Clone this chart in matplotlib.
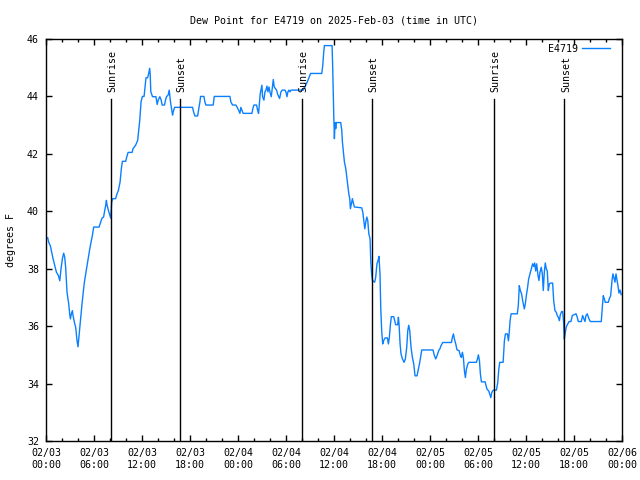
import numpy as np
import pandas as pd
import matplotlib
matplotlib.use("Agg")
import matplotlib.pyplot as plt
import matplotlib.dates as mdates
from matplotlib.ticker import MultipleLocator

# Hours since 2025-02-03 00:00 UTC and dew point (F)
hours = [0.21, 0.33, 0.55, 0.88, 1.17, 1.3, 1.55, 1.72, 1.88, 2.05, 2.21, 2.34, 2.46, 2.63, 2.84, 2.96,
         3.05, 3.17, 3.3, 3.38, 3.55, 3.71, 3.88, 4.0, 4.13, 4.26, 4.38, 4.5, 4.63, 4.8, 4.96, 5.13,
         5.3, 5.46, 5.63, 5.8, 5.96, 6.63, 6.8, 7.0, 7.2, 7.34, 7.46, 7.55, 7.63, 7.8, 7.96, 8.09,
         8.21, 8.34, 8.71, 8.84, 9.05, 9.26, 9.42, 9.55, 9.96, 10.09, 10.26, 10.76, 10.88, 11.2, 11.46, 11.59,
         11.72, 11.88, 12.05, 12.26, 12.38, 12.5, 12.7, 12.84, 12.96, 13.02, 13.1, 13.32, 13.74, 13.9, 14.02, 14.23,
         14.4, 14.52, 14.81, 14.94, 15.06, 15.27, 15.4, 15.56, 15.73, 15.82, 15.9, 16.07, 18.32, 18.45, 18.62, 18.95,
         19.07, 19.24, 19.32, 19.74, 19.86, 19.99, 20.9, 21.03, 22.99, 23.11, 23.32, 23.74, 23.9, 24.07, 24.24, 24.36,
         24.49, 24.65, 25.74, 25.86, 25.99, 26.32, 26.45, 26.57, 26.66, 26.78, 26.91, 26.99, 27.07, 27.24, 27.37, 27.49,
         27.62, 27.74, 27.87, 27.99, 28.16, 28.28, 28.41, 28.53, 28.66, 28.82, 28.99, 29.2, 29.37, 29.53, 29.87, 29.99,
         30.12, 30.24, 30.37, 30.49, 30.62, 30.83, 32.17, 32.37, 32.66, 32.91, 33.07, 34.47, 34.6, 34.72, 34.8, 35.76,
         35.84, 35.97, 36.05, 36.13, 36.22, 36.3, 36.84, 36.97, 37.05, 37.18, 37.3, 37.47, 37.6, 37.72, 37.85, 37.97,
         38.05, 38.18, 38.3, 38.43, 38.55, 39.47, 39.6, 39.72, 39.85, 39.97, 40.1, 40.22, 40.35, 40.51, 40.6, 40.72,
         40.81, 41.08, 41.21, 41.37, 41.5, 41.62, 41.75, 41.84, 41.96, 42.09, 42.21, 42.38, 42.67, 42.8, 42.92, 43.05,
         43.17, 43.46, 43.59, 43.71, 43.96, 44.05, 44.13, 44.26, 44.38, 44.55, 44.76, 44.92, 45.09, 45.22, 45.34, 45.47,
         45.63, 45.8, 45.97, 46.13, 46.38, 46.55, 46.72, 46.88, 46.97, 48.38, 48.55, 48.72, 48.88, 49.09, 49.22, 49.38,
         49.59, 50.68, 50.8, 50.93, 51.05, 51.22, 51.38, 51.63, 51.8, 51.92, 52.05, 52.17, 52.3, 52.42, 52.55, 52.72,
         52.88, 53.8, 53.93, 54.05, 54.18, 54.3, 54.43, 54.89, 55.01, 55.14, 55.35, 55.47, 55.6, 55.72, 55.89, 56.3,
         56.47, 56.6, 56.72, 57.14, 57.3, 57.43, 57.68, 57.8, 57.89, 58.01, 58.14, 58.91, 59.04, 59.16, 59.29, 59.45,
         59.58, 59.79, 59.91, 60.04, 60.2, 60.33, 60.5, 60.66, 60.83, 60.96, 61.08, 61.21, 61.33, 61.5, 61.62, 61.75,
         61.91, 62.04, 62.16, 62.29, 62.41, 62.54, 62.66, 62.79, 62.91, 63.08, 63.33, 63.46, 63.62, 63.79, 63.91, 64.04,
         64.17, 64.29, 64.46, 64.58, 64.71, 64.79, 64.91, 65.04, 65.2, 65.37, 65.62, 65.79, 66.25, 66.41, 66.54, 66.91,
         67.08, 67.25, 67.37, 67.5, 67.66, 67.83, 68.04, 69.41, 69.54, 69.66, 69.79, 69.91, 70.29, 70.41, 70.58, 70.75,
         70.87, 71.0, 71.12, 71.25, 71.37, 71.5, 71.62, 71.75, 71.9]
dewpoint = [39.08, 38.93, 38.79, 38.35, 38.03, 37.88, 37.76, 37.58, 38.0, 38.35, 38.54, 38.4, 38.03, 37.18, 36.77, 36.43,
            36.25, 36.43, 36.54, 36.37, 36.13, 35.96, 35.49, 35.28, 35.67, 36.08, 36.43, 36.77, 37.12, 37.53, 37.82, 38.11,
            38.4, 38.67, 38.93, 39.16, 39.45, 39.45, 39.59, 39.76, 39.8, 40.03, 40.2, 40.38, 40.22, 40.03, 39.88, 39.76,
            40.32, 40.44, 40.44, 40.58, 40.73, 41.02, 41.49, 41.74, 41.74, 41.89, 42.05, 42.05, 42.18, 42.3, 42.47, 42.82,
            43.17, 43.81, 44.0, 44.0, 44.34, 44.65, 44.65, 44.8, 44.98, 44.8, 44.16, 43.99, 43.99, 43.72, 43.87, 43.99,
            43.87, 43.7, 43.7, 43.87, 43.99, 44.05, 44.22, 43.81, 43.52, 43.35, 43.46, 43.62, 43.62, 43.46, 43.32, 43.32,
            43.52, 43.81, 44.0, 44.0, 43.81, 43.7, 43.7, 44.0, 44.0, 43.81, 43.7, 43.7, 43.62, 43.52, 43.41, 43.62,
            43.52, 43.41, 43.41, 43.58, 43.7, 43.7, 43.52, 43.41, 43.7, 44.1, 44.28, 44.39, 43.99, 43.87, 44.16, 44.22,
            44.36, 44.16, 44.33, 44.16, 43.99, 44.28, 44.59, 44.33, 44.28, 44.22, 44.05, 43.93, 44.16, 44.22, 44.22, 44.16,
            43.99, 44.16, 44.22, 44.16, 44.22, 44.22, 44.22, 44.33, 44.51, 44.68, 44.8, 44.8, 45.09, 45.56, 45.77, 45.77,
            44.98, 43.35, 42.53, 43.09, 42.88, 43.09, 43.09, 42.82, 42.42, 42.07, 41.72, 41.49, 41.19, 40.9, 40.61, 40.44,
            40.09, 40.27, 40.44, 40.27, 40.15, 40.12, 39.97, 39.68, 39.39, 39.62, 39.8, 39.68, 39.22, 39.04, 38.23, 37.76,
            37.59, 37.53, 37.7, 38.17, 38.28, 38.43, 37.82, 36.66, 35.84, 35.38, 35.5, 35.59, 35.59, 35.38, 35.61, 36.05,
            36.33, 36.33, 36.19, 36.05, 36.05, 36.31, 36.08, 35.38, 35.03, 34.86, 34.74, 34.86, 35.26, 35.84, 36.03, 35.84,
            35.26, 34.91, 34.68, 34.27, 34.27, 34.5, 34.74, 35.03, 35.17, 35.17, 34.97, 34.86, 34.97, 35.15, 35.2, 35.32,
            35.43, 35.43, 35.61, 35.73, 35.55, 35.38, 35.17, 35.15, 34.97, 34.91, 35.09, 34.91, 34.45, 34.21, 34.5, 34.68,
            34.74, 34.74, 34.86, 35.0, 34.8, 34.33, 34.06, 34.06, 33.92, 33.8, 33.74, 33.63, 33.51, 33.69, 33.77, 33.77,
            34.04, 34.5, 34.74, 34.74, 35.49, 35.73, 35.73, 35.49, 35.73, 36.19, 36.43, 36.43, 36.72, 37.41, 37.24, 37.12,
            36.89, 36.6, 36.77, 37.06, 37.35, 37.64, 37.82, 37.99, 38.17, 38.08, 38.2, 37.92, 38.17, 37.76, 37.59, 37.88,
            38.05, 37.82, 37.24, 37.88, 38.2, 37.99, 37.92, 37.24, 37.47, 37.5, 37.5, 36.89, 36.54, 36.48, 36.37, 36.31,
            36.19, 36.4, 36.51, 36.51, 36.1, 35.55, 35.78, 35.98, 36.07, 36.16, 36.16, 36.37, 36.43, 36.31, 36.16, 36.16,
            36.37, 36.25, 36.16, 36.37, 36.43, 36.28, 36.16, 36.16, 36.66, 37.06, 36.95, 36.83, 36.83, 36.95, 37.06, 37.59,
            37.82, 37.68, 37.53, 37.82, 37.61, 37.41, 37.15, 37.26, 37.1]

sunrise_hours = [8.08, 32.05, 56.04]
sunset_hours = [16.77, 40.79, 64.81]

start = pd.Timestamp("2025-02-03 00:00")
times = [start + pd.Timedelta(hours=h) for h in hours]

mono = "DejaVu Sans Mono"
plt.rcParams["font.family"] = mono
plt.rcParams["font.size"] = 7.2

fig = plt.figure(figsize=(6.4, 4.8), dpi=100)
ax = fig.add_axes([46/640, 39/480, 576/640, 402/480])

ax.plot(times, dewpoint, color="#0a80ff", lw=1.0, label="E4719")

for h in sunrise_hours:
    t = start + pd.Timedelta(hours=h)
    ax.plot([t, t], [32, 43.9], color="black", lw=1.0)
    ax.text(start + pd.Timedelta(hours=h + 0.18), 44.15, "Sunrise", rotation=90,
            ha="center", va="bottom", fontsize=7.2)
for h in sunset_hours:
    t = start + pd.Timedelta(hours=h)
    ax.plot([t, t], [32, 43.9], color="black", lw=1.0)
    ax.text(start + pd.Timedelta(hours=h + 0.18), 44.15, "Sunset", rotation=90,
            ha="center", va="bottom", fontsize=7.2)

ax.set_xlim(start, start + pd.Timedelta(hours=72))
ax.set_ylim(32, 46)
ax.xaxis.set_major_locator(mdates.HourLocator(byhour=range(0, 24, 6)))
ax.xaxis.set_minor_locator(mdates.HourLocator(byhour=range(0, 24, 2)))
ax.xaxis.set_major_formatter(mdates.DateFormatter("%m/%d\n%H:%M"))
ax.yaxis.set_major_locator(MultipleLocator(2))

ax.tick_params(which="both", direction="in", top=True, right=True, width=1.0)
ax.tick_params(which="major", length=4.5, pad=5)
ax.tick_params(which="minor", length=2.3)
for s in ax.spines.values():
    s.set_linewidth(1.0)

ax.set_title("Dew Point for E4719 on 2025-Feb-03 (time in UTC)", fontsize=7.2, pad=11)
ax.set_ylabel("degrees F", fontsize=7.2, labelpad=8)

leg = ax.legend(loc="upper right", bbox_to_anchor=(0.991, 1.005), frameon=False,
                markerfirst=False, handlelength=2.8, borderaxespad=0.3,
                handletextpad=0.4, fontsize=7.2)

fig.savefig("out.png", dpi=100)
